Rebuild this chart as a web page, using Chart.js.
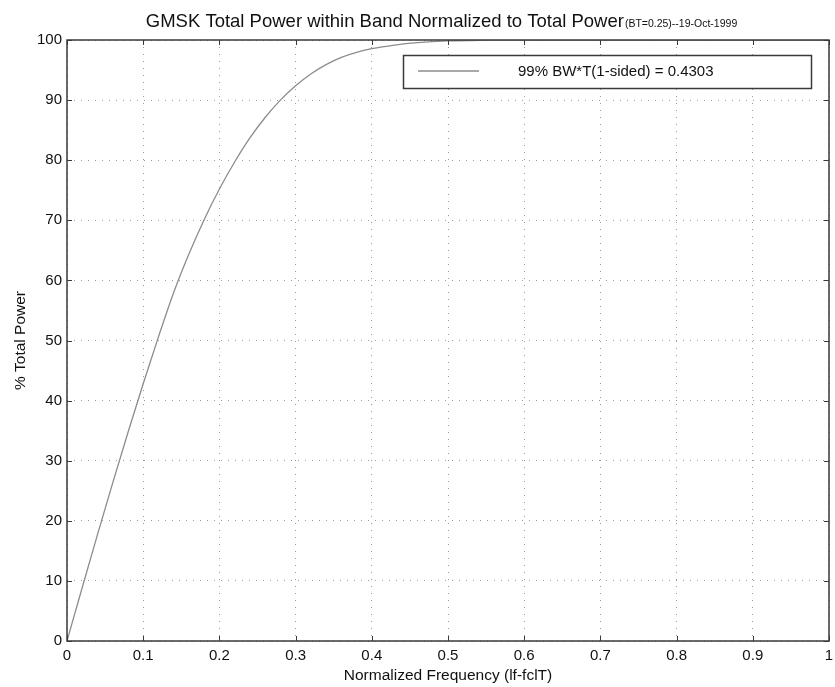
<!DOCTYPE html>
<html>
<head>
<meta charset="utf-8">
<script src="https://cdn.jsdelivr.net/npm/chart.js@4"></script>
<style>
  html, body { margin: 0; padding: 0; background: #fff; }
  #wrap { width: 835px; height: 687px; }
</style>
</head>
<body>
<div id="wrap"><canvas id="myChart" width="835" height="687"></canvas></div>
<script>
// normalized frequency |f-fc|T and % of total power inside the band
const freq = [0, 0.02, 0.04, 0.06, 0.08, 0.1, 0.12, 0.14, 0.16, 0.18, 0.2, 0.22, 0.24, 0.26, 0.28,
              0.3, 0.32, 0.34, 0.36, 0.38, 0.4, 0.43, 0.46, 0.5, 0.55, 0.6, 0.7, 0.8, 0.9, 1.0];
const pctPower = [0, 8.9, 17.7, 26.3, 34.7, 42.8, 50.6, 58.0, 64.4, 70.1, 75.2, 79.7, 83.7, 87.1, 90.0,
                  92.4, 94.35, 95.9, 97.1, 97.95, 98.55, 99.15, 99.55, 99.85, 99.97, 100, 100, 100, 100, 100];
const xTicks = [0, 0.1, 0.2, 0.3, 0.4, 0.5, 0.6, 0.7, 0.8, 0.9, 1];
const yTicks = [0, 10, 20, 30, 40, 50, 60, 70, 80, 90, 100];
const legendLabel = '99% BW*T(1-sided) = 0.4303';

const FONT = "'Liberation Sans', Arial, Helvetica, sans-serif";

// title with the small date part, frame, inward ticks and the boxed legend
const matlabLook = {
  id: 'matlabLook',
  afterDraw(chart) {
    const ctx = chart.ctx;
    const a = chart.chartArea;
    const xs = chart.scales.x, ys = chart.scales.y;
    ctx.save();

    // frame
    ctx.strokeStyle = '#3a3a3a';
    ctx.lineWidth = 1.5;
    ctx.strokeRect(a.left, a.top, a.right - a.left, a.bottom - a.top);

    // inward tick marks on all four sides
    ctx.lineWidth = 1;
    ctx.beginPath();
    xTicks.forEach(v => {
      const px = Math.round(xs.getPixelForValue(v)) + 0.5;
      ctx.moveTo(px, a.bottom); ctx.lineTo(px, a.bottom - 5);
      ctx.moveTo(px, a.top); ctx.lineTo(px, a.top + 5);
    });
    yTicks.forEach(v => {
      const py = Math.round(ys.getPixelForValue(v)) + 0.5;
      ctx.moveTo(a.left, py); ctx.lineTo(a.left + 5, py);
      ctx.moveTo(a.right, py); ctx.lineTo(a.right - 5, py);
    });
    ctx.stroke();

    // title: big part + small subscript part
    const main = 'GMSK Total Power within Band Normalized to Total Power';
    const small = '(BT=0.25)--19-Oct-1999';
    ctx.fillStyle = '#111';
    ctx.textBaseline = 'alphabetic';
    ctx.textAlign = 'left';
    ctx.font = '18.5px ' + FONT;
    const w1 = ctx.measureText(main).width;
    ctx.font = '10.5px ' + FONT;
    const w2 = ctx.measureText(small).width;
    const x0 = 441 - (w1 + w2) / 2;
    ctx.font = '18.5px ' + FONT;
    ctx.fillText(main, x0, 26.5);
    ctx.font = '10.5px ' + FONT;
    ctx.fillText(small, x0 + w1 + 1, 27);

    // legend box
    ctx.fillStyle = '#fff';
    ctx.fillRect(403.5, 55.5, 408, 33);
    ctx.strokeStyle = '#3a3a3a';
    ctx.lineWidth = 1.5;
    ctx.strokeRect(403.5, 55.5, 408, 33);
    ctx.strokeStyle = chart.data.datasets[0].borderColor;
    ctx.lineWidth = 1.3;
    ctx.beginPath();
    ctx.moveTo(418, 71); ctx.lineTo(479, 71);
    ctx.stroke();
    ctx.fillStyle = '#111';
    ctx.font = '15px ' + FONT;
    ctx.textBaseline = 'middle';
    ctx.fillText(chart.data.datasets[0].label, 518, 72);

    ctx.restore();
  }
};

var ctx = document.getElementById('myChart').getContext('2d');

var myChart = new Chart(ctx, {
  type: 'scatter',
  data: {
    datasets: [{
      label: legendLabel,
      data: freq.map((f, i) => ({ x: f, y: pctPower[i] })),
      showLine: true,
      borderColor: '#8c8c8c',
      borderWidth: 1.3,
      pointRadius: 0,
      cubicInterpolationMode: 'monotone',
      fill: false
    }]
  },
  options: {
    responsive: false,
    animation: false,
    layout: { padding: { left: 0, right: 6, top: 40, bottom: 0 } },
    plugins: {
      legend: { display: false },
      title: { display: false },
      tooltip: { enabled: false }
    },
    scales: {
      x: {
        type: 'linear',
        min: 0,
        max: 1,
        afterBuildTicks: s => { s.ticks = xTicks.map(v => ({ value: v })); },
        afterFit: s => { s.height = 46; s.paddingLeft = 0; s.paddingRight = 0; },
        ticks: {
          color: '#111',
          font: { family: FONT, size: 15 },
          padding: 6,
          maxRotation: 0,
          callback: v => String(v)
        },
        grid: { color: '#9a9a9a', lineWidth: 1, drawTicks: false },
        border: { display: false, dash: [1, 6] },
        title: {
          display: true,
          text: 'Normalized Frequency (lf-fclT)',
          color: '#111',
          font: { family: FONT, size: 15.5 },
          padding: { top: 0, bottom: 2 }
        }
      },
      y: {
        type: 'linear',
        min: 0,
        max: 100,
        afterBuildTicks: s => { s.ticks = yTicks.map(v => ({ value: v })); },
        afterFit: s => { s.width = 67; s.paddingTop = 0; s.paddingBottom = 0; },
        ticks: {
          color: '#111',
          font: { family: FONT, size: 15 },
          padding: 5,
          callback: v => String(v)
        },
        grid: { color: '#9a9a9a', lineWidth: 1, drawTicks: false },
        border: { display: false, dash: [1, 6] },
        title: {
          display: true,
          text: '% Total Power',
          color: '#111',
          font: { family: FONT, size: 15.5 },
          padding: { top: 11, bottom: 0 }
        }
      }
    }
  },
  plugins: [matlabLook]
});
</script>
</body>
</html>
